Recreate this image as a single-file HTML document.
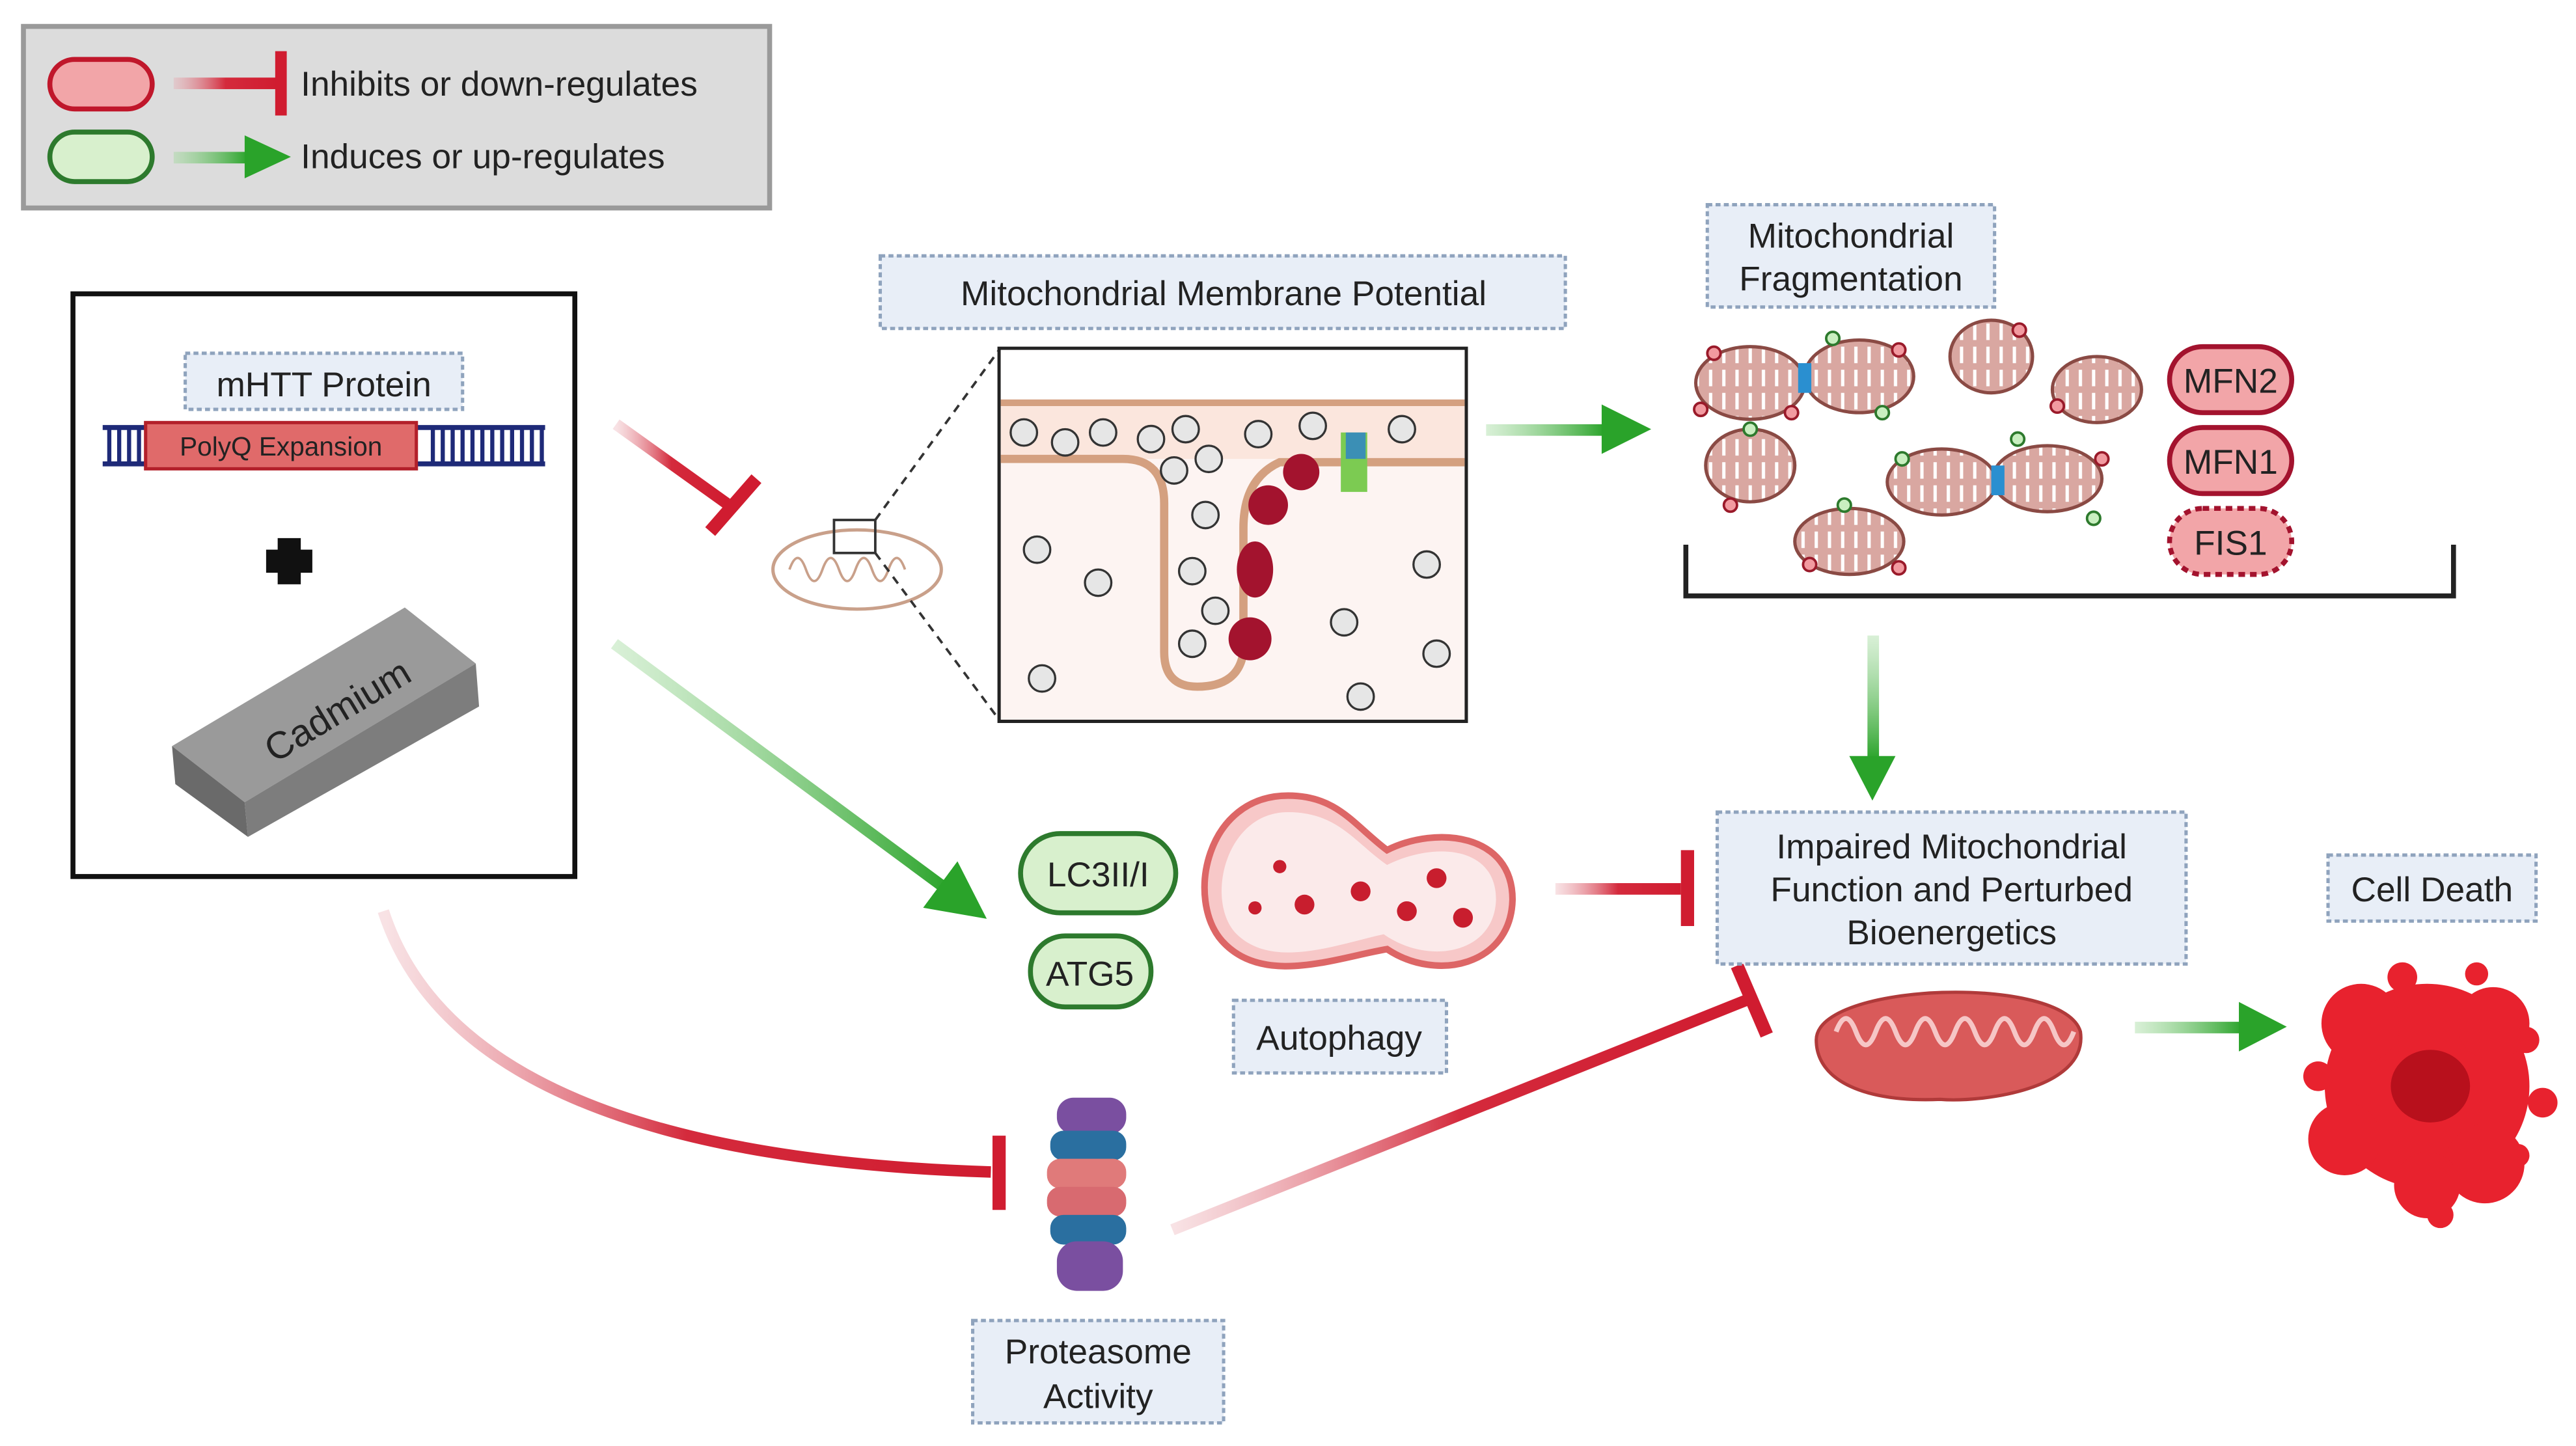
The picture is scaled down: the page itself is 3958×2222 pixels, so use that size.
<!DOCTYPE html>
<html><head><meta charset="utf-8"><style>
html,body{margin:0;padding:0;background:#fff;}
svg{display:block;}
text{font-family:"Liberation Sans",sans-serif;}
</style></head><body>
<svg width="3958" height="2222" viewBox="0 0 1560 876" xmlns="http://www.w3.org/2000/svg">
<defs>
<linearGradient id="gr1" x1="0" y1="0" x2="1" y2="0"><stop offset="0" stop-color="#e8a0a8" stop-opacity="0.3"/><stop offset="0.5" stop-color="#d42a3c"/><stop offset="1" stop-color="#d01c30"/></linearGradient>
<linearGradient id="gg1" x1="0" y1="0" x2="1" y2="0"><stop offset="0" stop-color="#9fd99a" stop-opacity="0.4"/><stop offset="1" stop-color="#2aa32a"/></linearGradient>
<linearGradient id="gg2" x1="0" y1="0" x2="0" y2="1"><stop offset="0" stop-color="#9fd99a" stop-opacity="0.4"/><stop offset="1" stop-color="#2aa32a"/></linearGradient>
<marker id="ga" markerWidth="5" markerHeight="5" refX="1" refY="2.5" orient="auto" markerUnits="strokeWidth"><path d="M0,0 L5,2.5 L0,5 z" fill="#2aa32a"/></marker>
<pattern id="cr" width="8" height="14" patternUnits="userSpaceOnUse"><rect width="8" height="14" fill="#d9a7a1"/><path d="M4,0 V10" stroke="#fff" stroke-width="2"/></pattern>
</defs>

<!-- legend -->
<rect x="14" y="16" width="452" height="110" fill="#dcdcdc" stroke="#9a9a9a" stroke-width="3"/>
<rect x="30" y="36" width="62" height="30" rx="15" fill="#f2a5a8" stroke="#c0172b" stroke-width="3"/>
<rect x="105" y="47" width="63" height="7" fill="url(#gr1)"/>
<line x1="170" y1="31" x2="170" y2="70" stroke="#d01c30" stroke-width="7"/>
<text x="182" y="58" font-size="21" fill="#222">Inhibits or down-regulates</text>
<rect x="30" y="80" width="62" height="30" rx="15" fill="#d8f0cd" stroke="#2d7a2d" stroke-width="3"/>
<rect x="105" y="92" width="45" height="7" fill="url(#gg1)"/>
<polygon points="148,82 176,95 148,108" fill="#2aa32a"/>
<text x="182" y="102" font-size="21" fill="#222">Induces or up-regulates</text>

<!-- left box -->
<rect x="44" y="178" width="304" height="353" fill="#fff" stroke="#111" stroke-width="3"/>
<rect x="112" y="214" width="168" height="34" fill="#e8eef7" stroke="#8fa3bd" stroke-width="2" stroke-dasharray="3,2"/>
<text x="196" y="240" font-size="21" text-anchor="middle" fill="#222">mHTT Protein</text>
<line x1="62" y1="259" x2="330" y2="259" stroke="#1e2a78" stroke-width="3"/>
<line x1="62" y1="281" x2="330" y2="281" stroke="#1e2a78" stroke-width="3"/>
<g stroke="#1e2a78" stroke-width="2.5">
<line x1="66" y1="259" x2="66" y2="281"/><line x1="72" y1="259" x2="72" y2="281"/><line x1="78" y1="259" x2="78" y2="281"/><line x1="84" y1="259" x2="84" y2="281"/>
<line x1="262" y1="259" x2="262" y2="281"/><line x1="268" y1="259" x2="268" y2="281"/><line x1="274" y1="259" x2="274" y2="281"/><line x1="280" y1="259" x2="280" y2="281"/><line x1="286" y1="259" x2="286" y2="281"/><line x1="292" y1="259" x2="292" y2="281"/><line x1="298" y1="259" x2="298" y2="281"/><line x1="304" y1="259" x2="304" y2="281"/><line x1="310" y1="259" x2="310" y2="281"/><line x1="316" y1="259" x2="316" y2="281"/><line x1="322" y1="259" x2="322" y2="281"/><line x1="328" y1="259" x2="328" y2="281"/>
</g>
<rect x="88" y="256" width="164" height="28" fill="#e06a6a" stroke="#b3202a" stroke-width="2"/>
<text x="170" y="276" font-size="16" text-anchor="middle" fill="#222">PolyQ Expansion</text>
<path d="M161,333 H189 V347 H161 Z M168,326 H182 V354 H168 Z" fill="#111"/>
<polygon points="104,452 245,368 288,402 148,486" fill="#9a9a9a"/>
<polygon points="104,452 148,486 150,507 106,475" fill="#6a6a6a"/>
<polygon points="148,486 288,402 290,428 150,507" fill="#7d7d7d"/>
<text x="198" y="440" font-size="23" fill="#222" transform="rotate(-31 198 420)" text-anchor="middle">Cadmium</text>

<!-- arrows from left -->
<line x1="373" y1="257" x2="440" y2="305" stroke="url(#gr1)" stroke-width="7"/>
<line x1="430" y1="322" x2="458" y2="290" stroke="#d01c30" stroke-width="8"/>
<line x1="372" y1="390" x2="575" y2="540" stroke="url(#gg1)" stroke-width="7" marker-end="url(#ga)"/>
<path d="M232,552 Q280,700 600,710" fill="none" stroke="url(#gr1)" stroke-width="7"/>
<line x1="605" y1="688" x2="605" y2="733" stroke="#d01c30" stroke-width="8"/>

<!-- small mito -->
<ellipse cx="519" cy="345" rx="51" ry="24" fill="#fff" stroke="#c9a08a" stroke-width="2"/>
<path d="M478,345 q5,-14 10,0 q5,14 10,0 q5,-14 10,0 q5,14 10,0 q5,-14 10,0 q5,14 10,0 q5,-14 10,0" fill="none" stroke="#c9a08a" stroke-width="1.5"/>
<rect x="505" y="315" width="25" height="20" fill="none" stroke="#333" stroke-width="1.5"/>
<line x1="530" y1="315" x2="605" y2="212" stroke="#333" stroke-width="1.5" stroke-dasharray="5,4"/>
<line x1="530" y1="335" x2="605" y2="436" stroke="#333" stroke-width="1.5" stroke-dasharray="5,4"/>

<!-- MMP label & inset -->
<rect x="533" y="155" width="415" height="44" fill="#e8eef7" stroke="#8fa3bd" stroke-width="2" stroke-dasharray="3,2"/>
<text x="741" y="185" font-size="21" text-anchor="middle" fill="#222">Mitochondrial Membrane Potential</text>
<rect x="605" y="211" width="283" height="226" fill="#fdf4f2" stroke="#222" stroke-width="2"/>
<rect x="606" y="212" width="281" height="30" fill="#fff"/>
<rect x="606" y="242" width="281" height="36" fill="#fbe6dd"/>
<line x1="606" y1="244" x2="887" y2="244" stroke="#d4a080" stroke-width="4"/>
<path d="M606,278 H680 Q705,278 705,305 V395 Q705,416 725,416 Q750,416 753,395 V320 Q753,290 775,280 H887" fill="none" stroke="#d4a080" stroke-width="5"/>
<g fill="#a3132e"><circle cx="768" cy="306" r="12"/><circle cx="788" cy="286" r="11"/><ellipse cx="760" cy="345" rx="11" ry="17"/><circle cx="757" cy="387" r="13"/></g>
<rect x="812" y="262" width="16" height="36" fill="#7ccb52"/><rect x="815" y="262" width="12" height="16" fill="#3b8fb5"/>
<g fill="#e6e6e6" stroke="#333" stroke-width="1.3">
<circle cx="620" cy="262" r="8"/><circle cx="645" cy="268" r="8"/><circle cx="668" cy="262" r="8"/><circle cx="697" cy="266" r="8"/><circle cx="718" cy="260" r="8"/><circle cx="711" cy="285" r="8"/><circle cx="732" cy="278" r="8"/><circle cx="762" cy="263" r="8"/><circle cx="795" cy="258" r="8"/><circle cx="849" cy="260" r="8"/><circle cx="628" cy="333" r="8"/><circle cx="665" cy="353" r="8"/><circle cx="722" cy="346" r="8"/><circle cx="730" cy="312" r="8"/><circle cx="736" cy="370" r="8"/><circle cx="722" cy="390" r="8"/><circle cx="631" cy="411" r="8"/><circle cx="814" cy="377" r="8"/><circle cx="864" cy="342" r="8"/><circle cx="824" cy="422" r="8"/><circle cx="870" cy="396" r="8"/>
</g>
<rect x="900" y="257" width="72" height="7" fill="url(#gg1)"/>
<polygon points="970,245 1000,260 970,275" fill="#2aa32a"/>

<!-- fragmentation -->
<rect x="1034" y="124" width="174" height="62" fill="#e8eef7" stroke="#8fa3bd" stroke-width="2" stroke-dasharray="3,2"/>
<text x="1121" y="150" font-size="21" text-anchor="middle" fill="#222">Mitochondrial</text>
<text x="1121" y="176" font-size="21" text-anchor="middle" fill="#222">Fragmentation</text>
<g fill="url(#cr)" stroke="#8a4a44" stroke-width="2">
<ellipse cx="1060" cy="232" rx="33" ry="22"/><ellipse cx="1126" cy="228" rx="33" ry="22"/><ellipse cx="1206" cy="216" rx="25" ry="22"/><ellipse cx="1270" cy="236" rx="27" ry="20"/>
<ellipse cx="1060" cy="282" rx="27" ry="22"/><ellipse cx="1176" cy="292" rx="33" ry="20"/><ellipse cx="1240" cy="290" rx="33" ry="20"/><ellipse cx="1120" cy="328" rx="33" ry="20"/>
</g>
<rect x="1089" y="220" width="8" height="18" fill="#2a8fd0"/><rect x="1206" y="282" width="8" height="18" fill="#2a8fd0"/>
<g fill="#f29aa0" stroke="#9a1a2a" stroke-width="1.5"><circle cx="1038" cy="214" r="4"/><circle cx="1030" cy="248" r="4"/><circle cx="1085" cy="250" r="4"/><circle cx="1150" cy="212" r="4"/><circle cx="1223" cy="200" r="4"/><circle cx="1246" cy="246" r="4"/><circle cx="1048" cy="306" r="4"/><circle cx="1150" cy="344" r="4"/><circle cx="1096" cy="342" r="4"/><circle cx="1273" cy="278" r="4"/></g>
<g fill="#c9efc0" stroke="#2d7a2d" stroke-width="1.5"><circle cx="1110" cy="205" r="4"/><circle cx="1140" cy="250" r="4"/><circle cx="1152" cy="278" r="4"/><circle cx="1222" cy="266" r="4"/><circle cx="1268" cy="314" r="4"/><circle cx="1060" cy="260" r="4"/><circle cx="1117" cy="306" r="4"/></g>
<rect x="1314" y="210" width="74" height="40" rx="20" fill="#f2a5a8" stroke="#a3132e" stroke-width="3"/>
<text x="1351" y="238" font-size="21" text-anchor="middle" fill="#222">MFN2</text>
<rect x="1314" y="259" width="74" height="40" rx="20" fill="#f2a5a8" stroke="#a3132e" stroke-width="3"/>
<text x="1351" y="287" font-size="21" text-anchor="middle" fill="#222">MFN1</text>
<rect x="1314" y="308" width="74" height="40" rx="20" fill="#f2a5a8" stroke="#a3132e" stroke-width="3" stroke-dasharray="4,3"/>
<text x="1351" y="336" font-size="21" text-anchor="middle" fill="#222">FIS1</text>
<path d="M1021,330 V361 H1486 V330" fill="none" stroke="#222" stroke-width="3"/>
<rect x="1131" y="385" width="7" height="75" fill="url(#gg2)"/>
<polygon points="1120,458 1134,485 1148,458" fill="#2aa32a"/>

<!-- autophagy -->
<rect x="618" y="505" width="94" height="48" rx="24" fill="#d8f0cd" stroke="#2d7a2d" stroke-width="3"/>
<text x="665" y="537" font-size="21" text-anchor="middle" fill="#222">LC3II/I</text>
<rect x="624" y="567" width="73" height="43" rx="21" fill="#d8f0cd" stroke="#2d7a2d" stroke-width="3"/>
<text x="660" y="597" font-size="21" text-anchor="middle" fill="#222">ATG5</text>
<path d="M780,482 C730,482 718,545 740,570 C765,598 810,580 840,575 C870,595 915,585 916,545 C916,505 870,500 840,515 C820,500 810,482 780,482 Z" fill="#f7c8c8" stroke="#d66" stroke-width="4"/>
<path d="M780,492 C742,492 730,545 748,565 C770,588 810,572 838,566 C865,585 905,578 906,545 C906,512 868,510 840,524 C820,510 810,492 780,492 Z" fill="#fbeaea"/>
<g fill="#c81e2e"><circle cx="790" cy="548" r="6"/><circle cx="824" cy="540" r="6"/><circle cx="852" cy="552" r="6"/><circle cx="870" cy="532" r="6"/><circle cx="886" cy="556" r="6"/><circle cx="775" cy="525" r="4"/><circle cx="760" cy="550" r="4"/></g>
<rect x="747" y="606" width="129" height="44" fill="#e8eef7" stroke="#8fa3bd" stroke-width="2" stroke-dasharray="3,2"/>
<text x="811" y="636" font-size="21" text-anchor="middle" fill="#222">Autophagy</text>
<rect x="942" y="535" width="76" height="7" fill="url(#gr1)"/>
<line x1="1022" y1="515" x2="1022" y2="561" stroke="#d01c30" stroke-width="8"/>

<!-- proteasome -->
<g>
<rect x="640" y="665" width="42" height="22" rx="10" fill="#7a4fa0"/>
<rect x="636" y="685" width="46" height="18" rx="8" fill="#2a6fa0"/>
<rect x="634" y="702" width="48" height="18" rx="8" fill="#e07a7a"/>
<rect x="634" y="719" width="48" height="18" rx="8" fill="#d86a70"/>
<rect x="636" y="736" width="46" height="18" rx="8" fill="#2a6fa0"/>
<rect x="640" y="752" width="40" height="30" rx="12" fill="#7a4fa0"/>
</g>
<rect x="589" y="800" width="152" height="62" fill="#e8eef7" stroke="#8fa3bd" stroke-width="2" stroke-dasharray="3,2"/>
<text x="665" y="826" font-size="21" text-anchor="middle" fill="#222">Proteasome</text>
<text x="665" y="853" font-size="21" text-anchor="middle" fill="#222">Activity</text>
<line x1="710" y1="745" x2="1060" y2="605" stroke="url(#gr1)" stroke-width="7"/>
<line x1="1052" y1="585" x2="1070" y2="627" stroke="#d01c30" stroke-width="8"/>

<!-- impaired -->
<rect x="1040" y="492" width="284" height="92" fill="#e8eef7" stroke="#8fa3bd" stroke-width="2" stroke-dasharray="3,2"/>
<text x="1182" y="520" font-size="21" text-anchor="middle" fill="#222">Impaired Mitochondrial</text>
<text x="1182" y="546" font-size="21" text-anchor="middle" fill="#222">Function and Perturbed</text>
<text x="1182" y="572" font-size="21" text-anchor="middle" fill="#222">Bioenergetics</text>
<path d="M1100,630 C1100,595 1250,590 1260,625 C1265,660 1200,668 1175,666 C1130,668 1100,655 1100,630 Z" fill="#d95a5a" stroke="#b03a3a" stroke-width="2"/>
<path d="M1112,625 q6,-16 12,0 q6,16 12,0 q6,-16 12,0 q6,16 12,0 q6,-16 12,0 q6,16 12,0 q6,-16 12,0 q6,16 12,0 q6,-16 12,0 q6,16 12,0 q6,-16 12,0 q6,16 12,0" fill="none" stroke="#f6c6c6" stroke-width="3"/>
<rect x="1293" y="619" width="65" height="7" fill="url(#gg1)"/>
<polygon points="1356,607 1385,622 1356,637" fill="#2aa32a"/>

<!-- cell death -->
<rect x="1410" y="518" width="126" height="40" fill="#e8eef7" stroke="#8fa3bd" stroke-width="2" stroke-dasharray="3,2"/>
<text x="1473" y="546" font-size="21" text-anchor="middle" fill="#222">Cell Death</text>
<g fill="#e8222e">
<circle cx="1470" cy="658" r="62"/><circle cx="1430" cy="620" r="24"/><circle cx="1510" cy="620" r="22"/><circle cx="1420" cy="690" r="22"/><circle cx="1505" cy="705" r="24"/><circle cx="1470" cy="718" r="20"/>
<circle cx="1404" cy="652" r="9"/><circle cx="1530" cy="630" r="8"/><circle cx="1540" cy="668" r="9"/><circle cx="1455" cy="592" r="9"/><circle cx="1500" cy="590" r="7"/><circle cx="1525" cy="700" r="7"/><circle cx="1415" cy="620" r="6"/><circle cx="1478" cy="736" r="8"/>
</g>
<ellipse cx="1472" cy="658" rx="24" ry="22" fill="#b8101c"/>
</svg>
</body></html>
